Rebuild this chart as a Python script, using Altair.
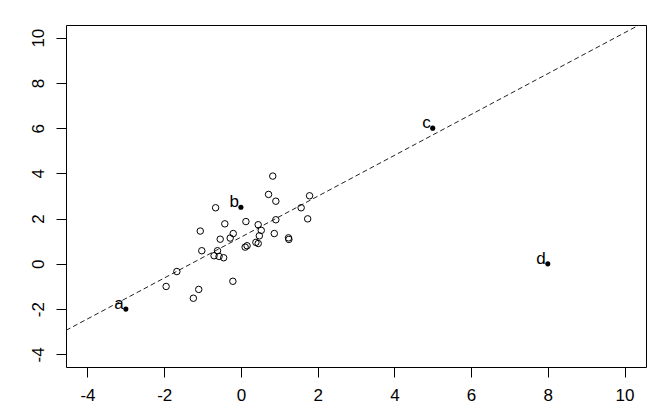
import altair as alt
import pandas as pd

# open circles (cloud)
cx = [0.83, 0.72, 0.91, 1.79, 1.57, 1.74, -0.66, 0.13, -0.42, 0.45, 0.91, -1.06,
      -0.20, 0.53, 0.87, -0.54, -0.28, 0.48, 1.24, 1.25, 0.39, 0.45, 0.11, 0.16,
      -1.02, -0.61, -0.70, -0.57, -0.45, -1.67, -1.95, -1.10, -1.24, -0.21]
cy = [3.88, 3.07, 2.77, 3.01, 2.48, 1.99, 2.48, 1.87, 1.77, 1.73, 1.95, 1.45,
      1.34, 1.48, 1.34, 1.09, 1.14, 1.24, 1.15, 1.08, 0.95, 0.90, 0.74, 0.80,
      0.58, 0.58, 0.36, 0.33, 0.27, -0.34, -1.00, -1.13, -1.52, -0.77]

# labelled special points
lab = ["a", "b", "c", "d"]
lx = [-3, 0, 5, 8]
ly = [-2, 2.5, 6, 0]

# dashed reference line
intercept = 1.18
slope = 0.9036
xdom = [-4.56, 10.56]
ydom = [-4.56, 10.56]
ticks = [-4, -2, 0, 2, 4, 6, 8, 10]

cloud = pd.DataFrame({"x": cx, "y": cy})
special = pd.DataFrame({"x": lx, "y": ly, "lab": lab})
line_df = pd.DataFrame({"x": xdom, "y": [intercept + slope * v for v in xdom]})

xs = alt.Scale(domain=xdom, nice=False, zero=False)
ys = alt.Scale(domain=ydom, nice=False, zero=False)

lbl = "'' + datum.value"
xaxis = alt.Axis(values=ticks, title=None, grid=False, domain=False, tickSize=10,
                 tickColor="black", labelFontSize=17, labelFont="Liberation Sans",
                 labelColor="black", labelPadding=10, labelFlush=False, labelExpr=lbl)
yaxis = alt.Axis(values=ticks, title=None, grid=False, domain=False, tickSize=10,
                 tickColor="black", labelFontSize=17, labelFont="Liberation Sans",
                 labelColor="black", labelPadding=13, labelAngle=270,
                 labelAlign="center", labelBaseline="alphabetic", labelFlush=False,
                 labelExpr=lbl)

base_x = alt.X("x:Q", scale=xs, axis=xaxis)
base_y = alt.Y("y:Q", scale=ys, axis=yaxis)

pts = alt.Chart(cloud).mark_point(shape="circle", filled=False, color="black",
                                  strokeWidth=1, size=42, opacity=1).encode(x=base_x, y=base_y)
sp = alt.Chart(special).mark_circle(color="black", size=26, opacity=1).encode(x=base_x, y=base_y)
txt = alt.Chart(special).mark_text(align="right", baseline="middle", dx=-2, dy=-5,
                                   fontSize=17, font="Liberation Sans", color="black").encode(
    x=base_x, y=base_y, text="lab:N")
ln = alt.Chart(line_df).mark_line(color="#222", strokeWidth=1, strokeDash=[5, 3], clip=True).encode(
    x=base_x, y=base_y)

chart = alt.layer(ln, pts, sp, txt).properties(
    width=580, height=342,
    autosize=alt.AutoSizeParams(type="none"),
    padding={"left": 58, "top": 17, "right": 15, "bottom": 46},
).configure_view(stroke="black", strokeWidth=1)

chart.save("out.html", embed_options={"renderer": "svg", "actions": False})
